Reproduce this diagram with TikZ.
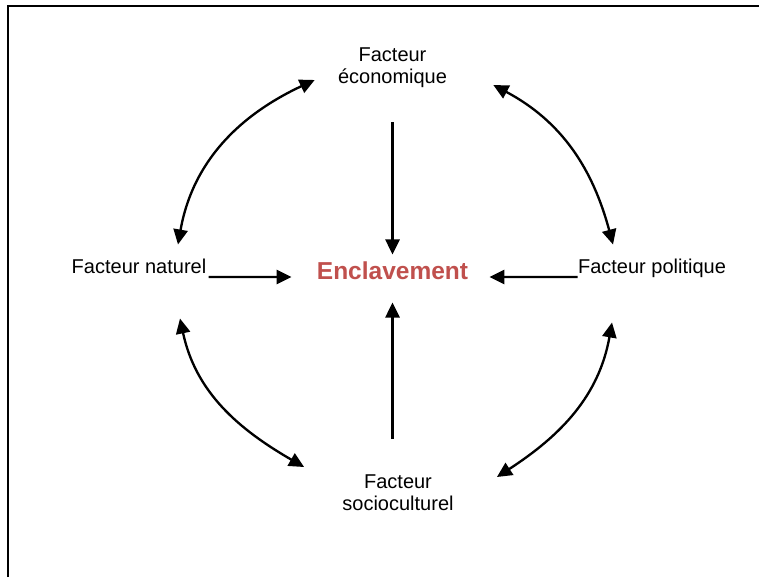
\documentclass[tikz,border=0pt]{standalone}
\usepackage{fontspec}
\setmainfont{Liberation Sans}
\usetikzlibrary{arrows.meta}
\definecolor{enclred}{RGB}{192,80,77}
\tikzset{
    factor/.style={font=\fontsize{12}{13.2}\selectfont, align=center, inner sep=0pt},
    center/.style={font=\bfseries\fontsize{14.7}{17}\selectfont, text=enclred, inner sep=0pt},
    link/.style={line width=1.4pt, -{Triangle[length=9pt,width=8.5pt]}},
    twoway/.style={line width=1.4pt, {Triangle[length=9pt,width=8.5pt]}-{Triangle[length=9pt,width=8.5pt]}}
}
\begin{document}
\begin{tikzpicture}[x=0.6pt,y=0.6pt]
        \useasboundingbox (0,0) rectangle (759,-577);

        % Draw the frame
        \draw[line width=1.4pt] (8,-577) -- (8,-6) -- (759,-6);

        % Draw the factors and the centre
        \node[factor] (eco) at (392.5,-67.5) {Facteur\\économique};
        \node[factor, anchor=base] (nat) at (139,-273) {Facteur naturel};
        \node[factor, anchor=base] (pol) at (652,-273) {Facteur politique};
        \node[factor] (soc) at (398,-492.4) {Facteur\\socioculturel};
        \node[center, anchor=base] (encl) at (392.5,-279) {Enclavement};

        % Draw the arrows towards the centre
        \draw[link, shorten <=20.7pt, shorten >=3.9pt] (eco.south) -- (encl.north);
        \draw[link, shorten <=21pt, shorten >=13.8pt] (soc.north -| encl.south) -- (encl.south);
        \draw[link, shorten <=1.2pt, shorten >=15pt] ([yshift=-2.4pt]nat.base east) -- ([yshift=1.2pt]encl.base west);
        \draw[link, shorten >=12.6pt] ([yshift=-2.4pt]pol.base west) -- ([yshift=1.2pt]encl.base east);

        % Draw the arrows between the factors
        \draw[twoway] ([shift={(39,13.7)}]nat.north) to[out=80, in=205] ([shift={(-23,-12.5)}]eco.west);
        \draw[twoway] ([shift={(46,-17.5)}]eco.east) to[out=-28, in=105] ([shift={(-39,13.7)}]pol.north);
        \draw[twoway] ([shift={(41,-45)}]nat.south) to[out=-78, in=150] ([shift={(-38,25.4)}]soc.west);
        \draw[twoway] ([shift={(-40,-45)}]pol.south) to[out=-100, in=33] ([shift={(43,15.4)}]soc.east);
\end{tikzpicture}
\end{document}
